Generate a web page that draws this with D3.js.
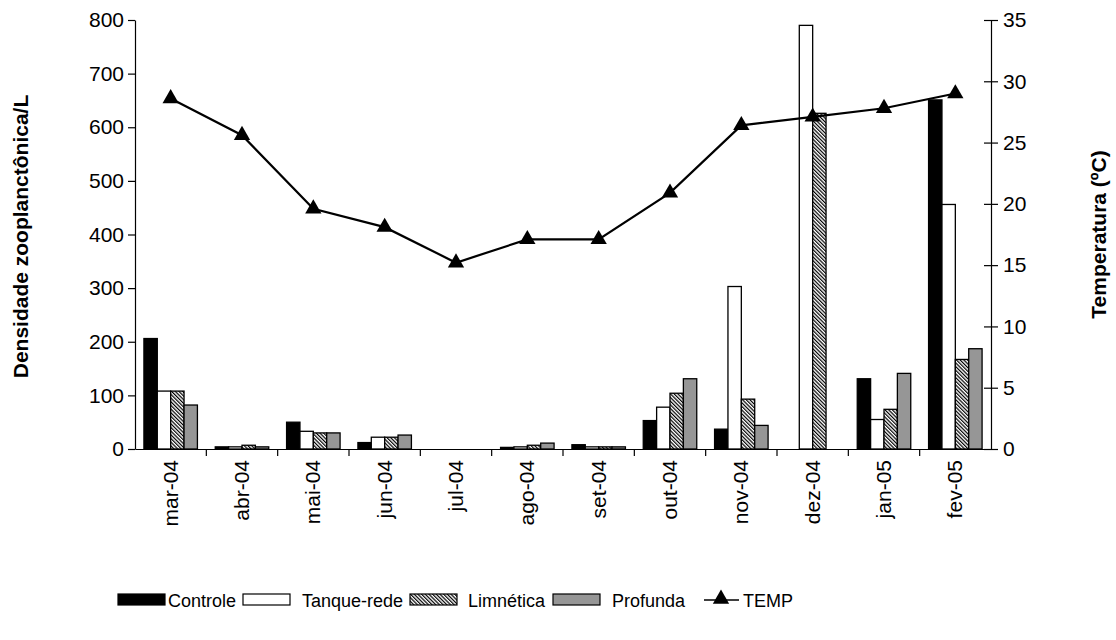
<!DOCTYPE html>
<html><head><meta charset="utf-8">
<script src="https://cdn.jsdelivr.net/npm/d3@7"></script>
<style>
body{margin:0;background:#fff;}
svg{display:block;font-family:"Liberation Sans",Arial,sans-serif;}
</style></head><body>
<svg id="c" width="1116" height="640"></svg>
<script>
const categories = ["mar-04","abr-04","mai-04","jun-04","jul-04","ago-04","set-04","out-04","nov-04","dez-04","jan-05","fev-05"];
const seriesNames = ["Controle","Tanque-rede","Limnética","Profunda"];
const controle   = [206, 4, 50, 12, 0, 3, 8, 53, 37, 0, 131, 651];
const tanqueRede = [108, 4, 33, 22, 0, 4, 4, 78, 303, 790, 55, 456];
const limnetica  = [108, 7, 30, 22, 0, 7, 4, 104, 93, 626, 74, 167];
const profunda   = [82, 4, 30, 26, 0, 11, 4, 131, 44, 0, 141, 187];
const temp       = [28.6, 25.6, 19.6, 18.1, 15.2, 17.1, 17.1, 20.9, 26.4, 27.1, 27.8, 29.0];
const leftTicks  = [0,100,200,300,400,500,600,700,800];
const rightTicks = [0,5,10,15,20,25,30,35];

const svg = d3.select("#c");
const L = 135, R = 991, T = 20, B = 449;
const FONT = "'Liberation Sans',Arial,sans-serif";

const defs = svg.append("defs");
const pat = defs.append("pattern").attr("id","hatch").attr("patternUnits","userSpaceOnUse")
  .attr("width",2.6).attr("height",2.6).attr("patternTransform","rotate(-45)");
pat.append("rect").attr("width",2.6).attr("height",2.6).attr("fill","#fff");
pat.append("rect").attr("width",1.2).attr("height",2.6).attr("fill","#000");

const fills = ["#000","#fff","url(#hatch)","#969696"];
const seriesData = [controle, tanqueRede, limnetica, profunda];

const x = d3.scaleBand().domain(categories).range([L,R]).padding(0);
const bw = x.bandwidth();
const xs = d3.scaleBand().domain(seriesNames).range([bw*0.125, bw*0.875]).padding(0);
const y = d3.scaleLinear().domain([0,800]).range([B,T]);
const y2 = d3.scaleLinear().domain([0,35]).range([B,T]);

// bars
seriesNames.forEach((s,si)=>{
  svg.append("g").selectAll("rect").data(categories).join("rect")
    .attr("x", c=>x(c)+xs(s))
    .attr("width", xs.bandwidth())
    .attr("y", (c,i)=>y(seriesData[si][i]))
    .attr("height", (c,i)=>B-y(seriesData[si][i]))
    .attr("fill", fills[si])
    .attr("stroke", "#000").attr("stroke-width", 1.3)
    .style("display",(c,i)=>seriesData[si][i]>0?null:"none");
});

// axes
const gl = svg.append("g").attr("transform",`translate(${L},0)`)
  .call(d3.axisLeft(y).tickValues(leftTicks).tickSize(7).tickPadding(4).tickSizeOuter(0));
const gr = svg.append("g").attr("transform",`translate(${R},0)`)
  .call(d3.axisRight(y2).tickValues(rightTicks).tickSize(7).tickPadding(5).tickSizeOuter(0));
gr.selectAll(".tick line").attr("x1",-7).attr("x2",7);
const gx = svg.append("g").attr("transform",`translate(0,${B})`)
  .call(d3.axisBottom(x).tickSize(0).tickSizeOuter(0).tickFormat(""));
gx.selectAll(".bt").data(categories.slice(1)).join("line").attr("class","bt")
  .attr("x1",c=>x(c)).attr("x2",c=>x(c)).attr("y1",0).attr("y2",7).attr("stroke","#000");
[gl,gr,gx].forEach(g=>{
  g.selectAll("path,line").attr("stroke","#000").attr("stroke-width",1.2);
  g.selectAll("text").attr("fill","#000").style("font-size","21px").style("font-family",FONT);
});
// category labels rotated
svg.append("g").selectAll("text").data(categories).join("text")
  .attr("transform",c=>`translate(${x(c)+bw/2+7},${B+11}) rotate(-90)`)
  .attr("text-anchor","end").attr("font-size","21px").attr("fill","#000").text(c=>c);

// temp line
const line = d3.line().x((d,i)=>x(categories[i])+bw/2).y(d=>y2(d));
svg.append("path").datum(temp).attr("d",line).attr("fill","none").attr("stroke","#000").attr("stroke-width",2.2);
const tri = d3.symbol().type(d3.symbolTriangle).size(115);
svg.append("g").selectAll("path").data(temp).join("path")
  .attr("transform",(d,i)=>`translate(${x(categories[i])+bw/2},${y2(d)})`)
  .attr("d",tri()).attr("fill","#000");

// axis titles
svg.append("text").attr("transform",`translate(28,${(T+B)/2+2}) rotate(-90)`)
  .attr("text-anchor","middle").attr("font-weight","bold").attr("font-size","21px").text("Densidade zooplanctônica/L");
svg.append("text").attr("transform",`translate(1106,${(T+B)/2}) rotate(-90)`)
  .attr("text-anchor","middle").attr("font-weight","bold").attr("font-size","21px").text("Temperatura (ºC)");

// legend
const leg = svg.append("g").attr("transform","translate(0,600)");
const legItems = [
  {name:"Controle", sx:118, tx:168},
  {name:"Tanque-rede", sx:243, tx:302},
  {name:"Limnética", sx:410, tx:468},
  {name:"Profunda", sx:553, tx:612}
];
legItems.forEach((it,i)=>{
  leg.append("rect").attr("x",it.sx).attr("y",-6).attr("width",47).attr("height",11)
    .attr("fill",fills[i]).attr("stroke","#000").attr("stroke-width",1.2);
  leg.append("text").attr("x",it.tx).attr("y",6.5).attr("font-size","18px").text(it.name);
});
leg.append("line").attr("x1",704).attr("x2",739).attr("y1",0).attr("y2",0).attr("stroke","#000").attr("stroke-width",1.5);
leg.append("path").attr("transform","translate(721,-1)").attr("d",tri()).attr("fill","#000");
leg.append("text").attr("x",743).attr("y",6.5).attr("font-size","18px").text("TEMP");
</script></body></html>
